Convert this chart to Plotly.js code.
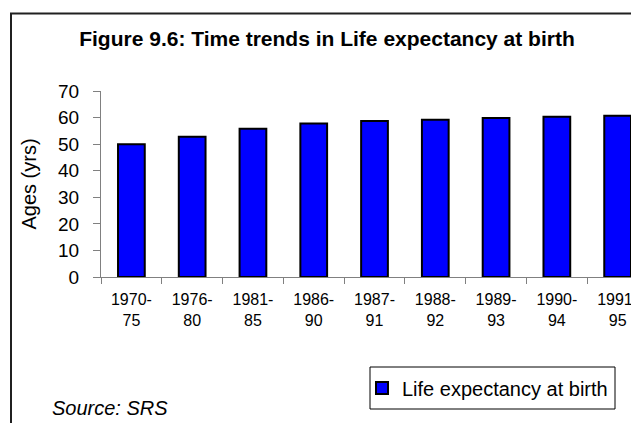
<!DOCTYPE html>
<html>
<head>
<meta charset="utf-8">
<script src="https://cdn.plot.ly/plotly-3.0.1.min.js"></script>
<style>html,body{margin:0;padding:0;background:#fff;}#chart{width:631px;height:423px;}</style>
</head>
<body>
<div id="chart"></div>
<script>
// ---- data ----
const categories = ["1970-75","1976-80","1981-85","1986-90","1987-91","1988-92","1989-93","1990-94","1991-95"];
const tickLabels = ["1970-<br>75","1976-<br>80","1981-<br>85","1986-<br>90","1987-<br>91","1988-<br>92","1989-<br>93","1990-<br>94","1991-<br>95"];
const lifeExpectancy = [50.0, 52.8, 55.8, 57.8, 58.7, 59.2, 59.8, 60.3, 60.7];
const seriesName = "Life expectancy at birth";
const yTicks = [0,10,20,30,40,50,60,70];

// ---- layout helpers ----
const W = 631, H = 423, L = 101, R = 0, T = 91, B = 146;
const plotW = W - L - R, plotH = H - T - B;
const px2x = p => (p - L) / plotW;
const px2y = p => (H - B - p) / plotH;
const FONT = '"Liberation Sans", Arial, sans-serif';

const trace = {
  type: 'bar',
  x: categories,
  y: lifeExpectancy,
  name: seriesName,
  marker: {color: '#0000FF', line: {color: '#000000', width: 2}},
  showlegend: true
};

const layout = {
  width: W, height: H,
  margin: {l: L, r: R, t: T, b: B, pad: 0},
  paper_bgcolor: '#ffffff',
  plot_bgcolor: '#ffffff',
  font: {family: FONT, color: '#000000'},
  bargap: 0.56,
  title: {
    text: 'Figure 9.6: Time trends in Life expectancy at birth',
    font: {family: FONT, size: 21, weight: 'bold', color: '#000'},
    xref: 'container', x: 327 / W, xanchor: 'center',
    yref: 'container', y: 1 - 39 / H, yanchor: 'middle'
  },
  xaxis: {
    type: 'category',
    range: [-0.5, 8.22],
    tickmode: 'array',
    tickvals: categories,
    ticktext: tickLabels,
    tickson: 'boundaries',
    ticks: 'outside', ticklen: 6, tickwidth: 1, tickcolor: '#808080',
    ticklabelstandoff: 8,
    showline: true, linecolor: '#808080', linewidth: 1,
    showgrid: false, zeroline: false,
    tickfont: {family: FONT, size: 16, color: '#000'},
    fixedrange: true
  },
  yaxis: {
    range: [0, 70],
    tickmode: 'array',
    tickvals: yTicks,
    ticks: 'outside', ticklen: 7, tickwidth: 1, tickcolor: '#808080',
    ticklabelstandoff: 10,
    showline: true, linecolor: '#808080', linewidth: 1,
    showgrid: false, zeroline: false,
    tickfont: {family: FONT, size: 19, color: '#000'},
    title: {text: 'Ages (yrs)', font: {family: FONT, size: 20, color: '#000'}, standoff: 16},
    fixedrange: true
  },
  showlegend: true,
  legend: {
    x: px2x(362), xanchor: 'left',
    y: px2y(388), yanchor: 'middle',
    borderwidth: 0,
    bgcolor: 'rgba(0,0,0,0)',
    font: {family: FONT, size: 20, color: '#000'}
  },
  shapes: [
    // outer chart frame (extends beyond the visible area)
    {type: 'rect', xref: 'paper', yref: 'paper',
     x0: px2x(11), x1: px2x(700), y0: px2y(500), y1: px2y(13.5),
     line: {color: '#202020', width: 2}, fillcolor: 'rgba(0,0,0,0)', layer: 'below'},
    // legend frame
    {type: 'rect', xref: 'paper', yref: 'paper',
     x0: px2x(370), x1: px2x(615), y0: px2y(409), y1: px2y(367),
     line: {color: '#000000', width: 1}, fillcolor: 'rgba(0,0,0,0)', layer: 'above'}
  ],
  annotations: [
    {text: 'Source: SRS', xref: 'paper', yref: 'paper',
     x: px2x(50), xanchor: 'left', y: px2y(408), yanchor: 'middle',
     showarrow: false,
     font: {family: FONT, size: 20, style: 'italic', color: '#000'}}
  ]
};

Plotly.newPlot('chart', [trace], layout, {displayModeBar: false, staticPlot: true});
</script>
</body>
</html>
